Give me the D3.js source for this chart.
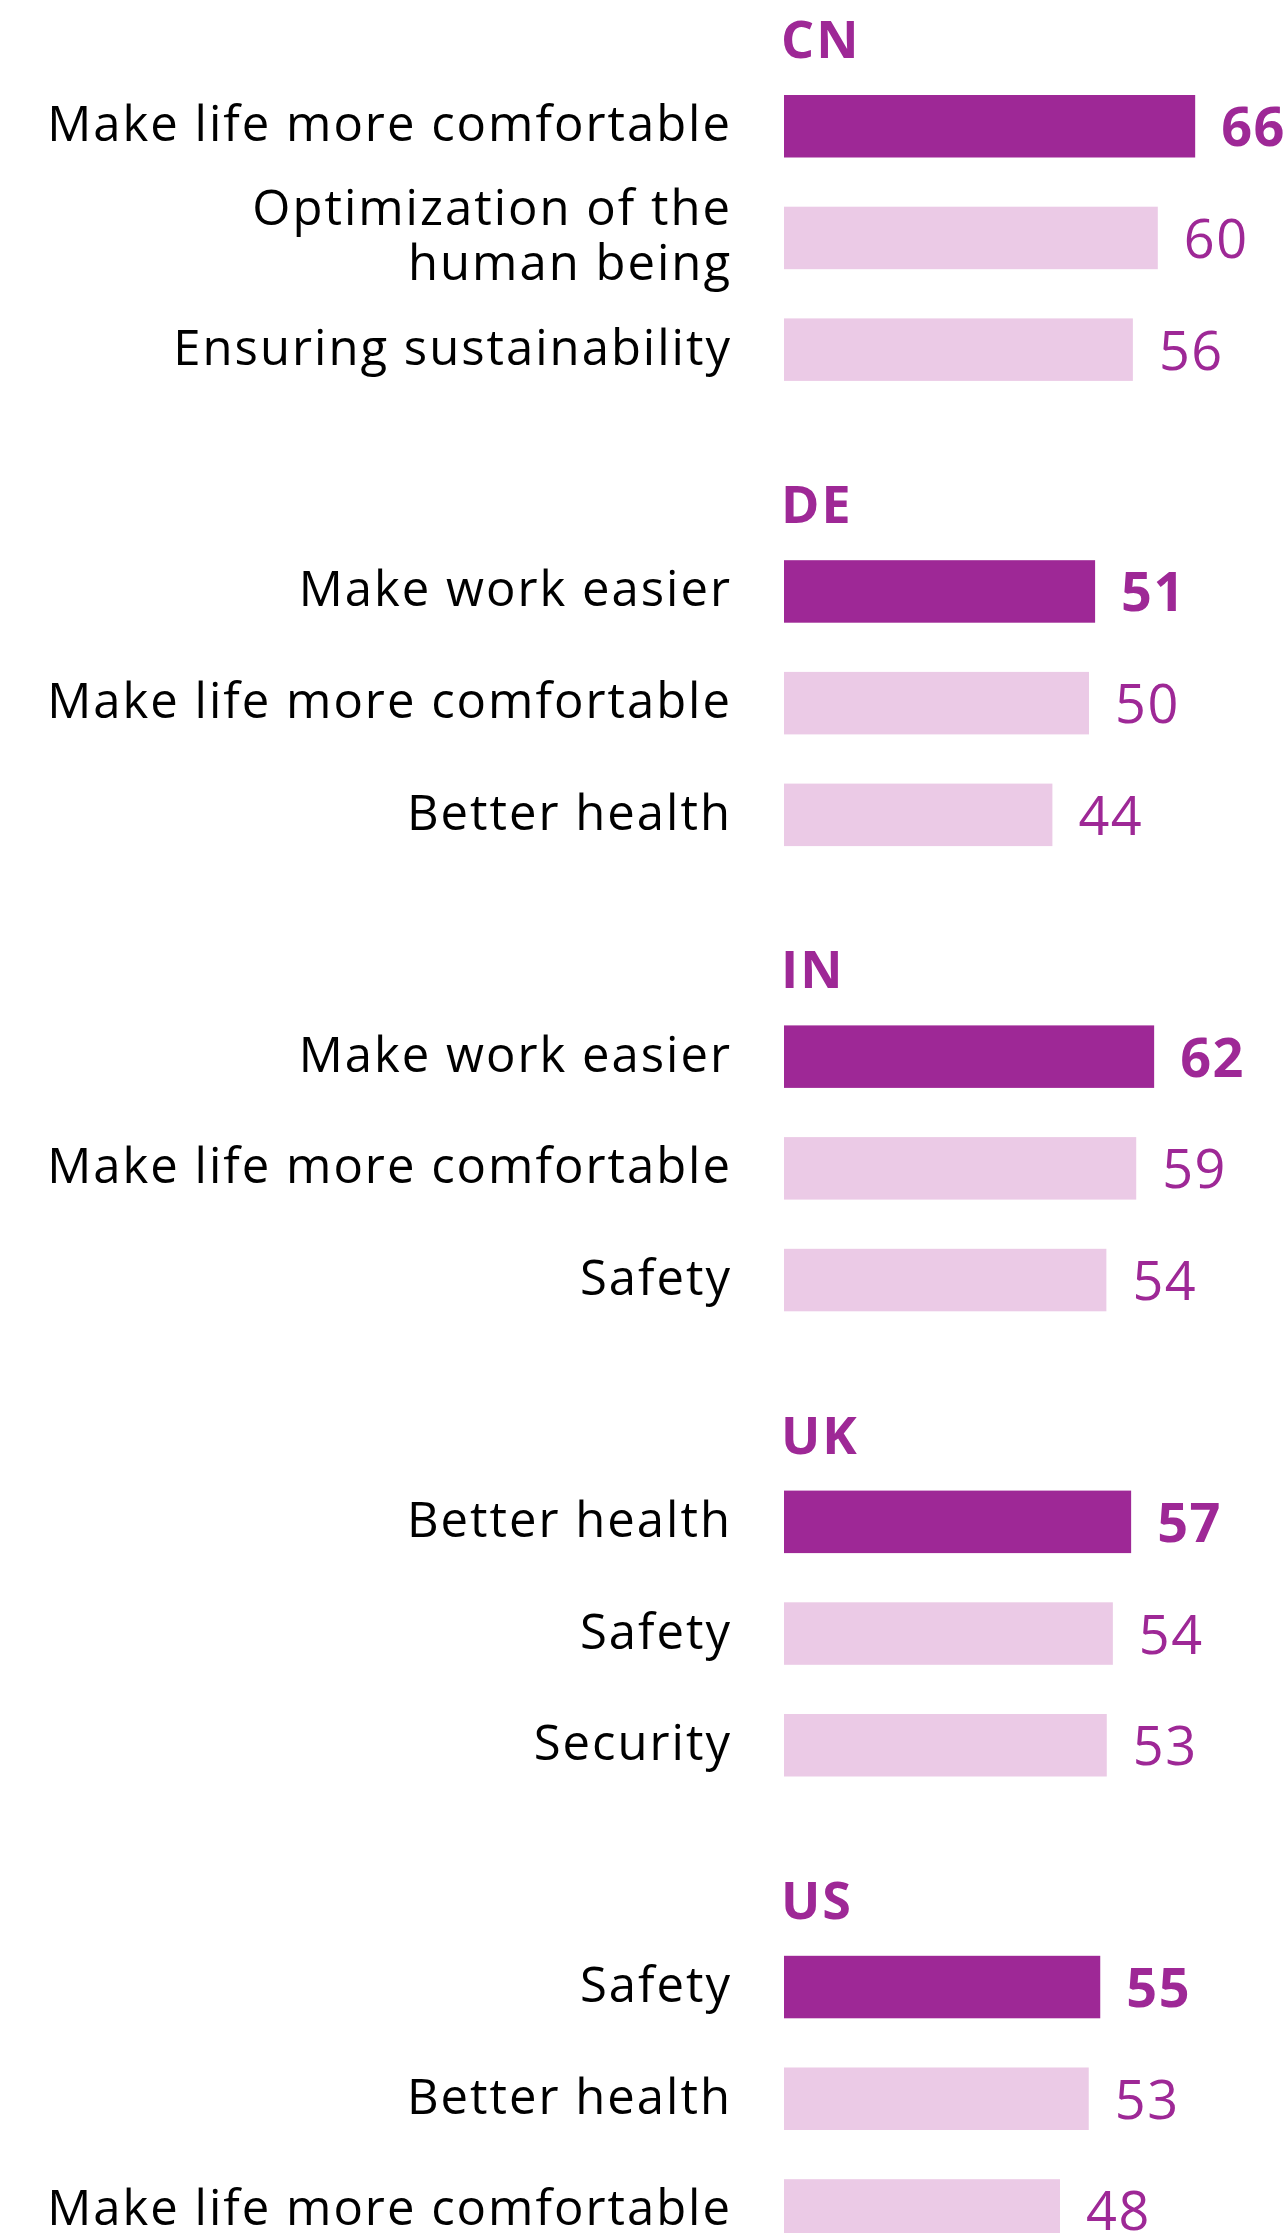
<!DOCTYPE html>
<html>
<head>
<meta charset="utf-8">
<script src="https://cdn.jsdelivr.net/npm/d3@7"></script>
<style>
  html, body { margin: 0; padding: 0; background: #ffffff; }
  svg { display: block; }
  text { font-family: "Open Sans", "Noto Sans", sans-serif; }
</style>
</head>
<body>
<svg id="chart" width="1287" height="2233"></svg>
<script>
// Survey results: top three expectations per country (share in %)
const countries = ["CN", "DE", "IN", "UK", "US"];

const cnLabels = ["Make life more comfortable", "Optimization of the\nhuman being", "Ensuring sustainability"];
const cnValues = [66, 60, 56];

const deLabels = ["Make work easier", "Make life more comfortable", "Better health"];
const deValues = [51, 50, 44];

const inLabels = ["Make work easier", "Make life more comfortable", "Safety"];
const inValues = [62, 59, 54];

const ukLabels = ["Better health", "Safety", "Security"];
const ukValues = [57, 54, 53];

const usLabels = ["Safety", "Better health", "Make life more comfortable"];
const usValues = [55, 53, 48];

const labelSets = [cnLabels, deLabels, inLabels, ukLabels, usLabels];
const valueSets = [cnValues, deValues, inValues, ukValues, usValues];

// Layout
const barX0 = 784;                            // left edge of all bars
const panelSpan = [623, 610, 597, 609, 575];  // pixel length of 100 % in each panel
const firstBarTop = 95;
const panelStep = 465.2;
const rowStep = 111.7;
const barH = 62.5;
const labelRight = 729;
const labelSpacing = 2.0;

const dark = "#9e2896";
const light = "#ebcae6";

const svg = d3.select("#chart");

// Panels stacked vertically
const panelY = d3.scaleBand()
  .domain(countries)
  .range([firstBarTop, firstBarTop + panelStep * countries.length])
  .paddingInner(0).paddingOuter(0);

countries.forEach((c, p) => {
  const labels = labelSets[p];
  const values = valueSets[p];
  const top = panelY(c);

  const x = d3.scaleLinear().domain([0, 100]).range([barX0, barX0 + panelSpan[p]]);

  const pad = 1 - barH / rowStep;
  const y = d3.scaleBand()
    .domain(d3.range(values.length))
    .range([top, top + rowStep * (values.length - pad)])
    .paddingInner(pad).paddingOuter(0);

  const g = svg.append("g").attr("class", "panel");

  // Country heading
  g.append("text")
    .attr("x", barX0 - 3)
    .attr("y", top - 37)
    .attr("fill", dark)
    .attr("font-size", 52)
    .attr("font-weight", 700)
    .attr("letter-spacing", 2)
    .text(c);

  const rows = g.selectAll("g.row")
    .data(values.map((v, i) => ({ v, label: labels[i], i })))
    .join("g").attr("class", "row");

  rows.append("rect")
    .attr("x", x(0))
    .attr("y", d => y(d.i))
    .attr("width", d => x(d.v) - x(0))
    .attr("height", y.bandwidth())
    .attr("fill", d => d.i === 0 ? dark : light);

  // Value next to each bar
  rows.append("text")
    .attr("x", d => x(d.v) + 26)
    .attr("y", d => y(d.i) + y.bandwidth() / 2 + 20)
    .attr("fill", dark)
    .attr("font-size", 54)
    .attr("letter-spacing", 1.5)
    .attr("font-weight", d => d.i === 0 ? 700 : 400)
    .text(d => d.v);

  // Category label, right-aligned left of the bars
  rows.each(function(d) {
    const lines = d.label.split("\n");
    const cy = y(d.i) + y.bandwidth() / 2;
    const t = d3.select(this).append("text")
      .attr("text-anchor", "end")
      .attr("fill", "#000")
      .attr("font-size", 49)
      .attr("letter-spacing", labelSpacing);
    lines.forEach((ln, k) => {
      t.append("tspan")
        .attr("x", labelRight + labelSpacing + 1)
        .attr("y", cy + 15 + (k - (lines.length - 1) / 2) * 55)
        .text(ln);
    });
  });
});
</script>
</body>
</html>
